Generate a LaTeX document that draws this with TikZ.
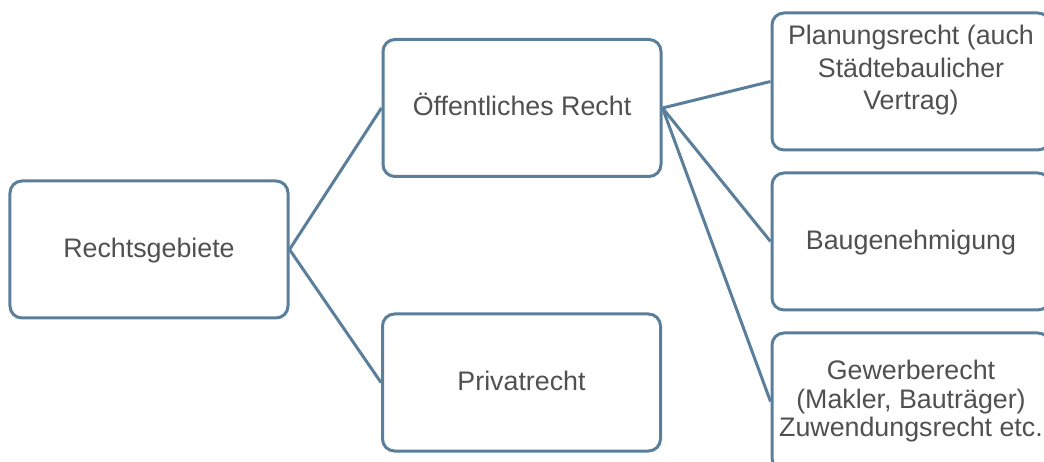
\documentclass[tikz,border=0pt]{standalone}
\usepackage{fontspec}
\setmainfont{Liberation Sans}
\definecolor{bord}{HTML}{5B7E9A}
\definecolor{txt}{HTML}{505050}
\begin{document}
\begin{tikzpicture}[x=1bp,y=-1bp,
 box/.style={draw=bord,line width=3bp,rounded corners=12bp,minimum width=278bp,minimum height=137bp,inner sep=0pt,fill=white},
 lbl/.style={text=txt,font=\fontsize{26.8bp}{32.5bp}\selectfont,align=center,inner sep=0pt},
 link/.style={draw=bord,line width=3bp}]
\useasboundingbox (0,0) rectangle (1044,462);
\clip (0,0) rectangle (1044,462);
\node[box] (rg) at (149,249.5) {};
\node[box] (oe) at (522,108) {};
\node[box] (pr) at (521.5,382.5) {};
\node[box] (pl) at (911,81.5) {};
\node[box] (bg) at (911,241.5) {};
\node[box] (gw) at (911,401.5) {};
\draw[link] (rg.east) -- (oe.west);
\draw[link] (rg.east) -- (pr.west);
\draw[link] (oe.east) -- (pl.west);
\draw[link] (oe.east) -- (bg.west);
\draw[link] (oe.east) -- (gw.west);
\node[lbl, anchor=base] (rgt) at (149,258) {Rechtsgebiete};
\node[lbl, anchor=base] (oet) at (522,116) {Öffentliches Recht};
\node[lbl, anchor=base] (prt) at (521.5,391) {Privatrecht};
\node[lbl, anchor=base] (bgt) at (911,249.5) {Baugenehmigung};
\node[lbl] (plt) at (911,70.5) {Planungsrecht (auch\\Städtebaulicher\\Vertrag)};
\node[lbl, font=\fontsize{26.8bp}{28.5bp}\selectfont] (gwt) at (911,401.5) {Gewerberecht\\(Makler, Bauträger)\\Zuwendungsrecht etc.};
\end{tikzpicture}
\end{document}
